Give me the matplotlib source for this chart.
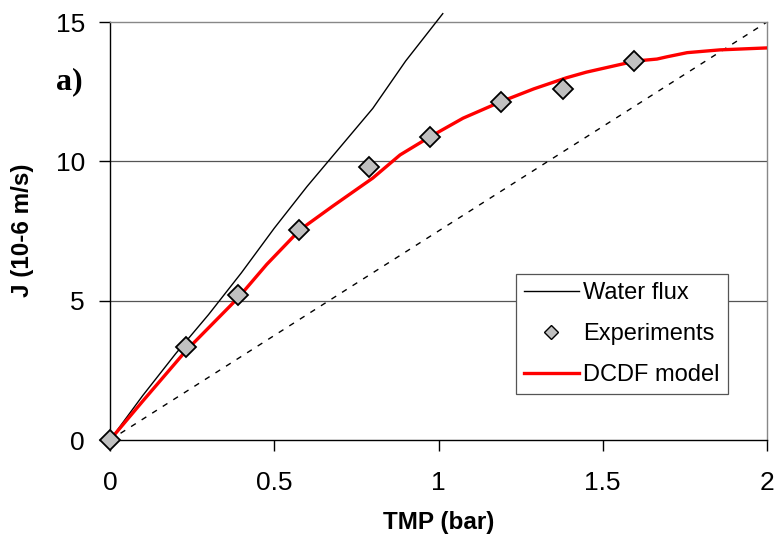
import matplotlib
matplotlib.use("Agg")
import matplotlib.pyplot as plt
from matplotlib.lines import Line2D

plt.rcParams['font.family'] = ['Liberation Sans', 'DejaVu Sans']

# Data
water_tmp = [0, 0.1, 0.2, 0.3, 0.4, 0.5, 0.6, 0.7, 0.8, 0.9, 1.013]
water_j = [0, 1.6, 3.1, 4.5, 6.0, 7.6, 9.1, 10.5, 11.9, 13.6, 15.3]

exp_tmp = [0, 0.231, 0.39, 0.575, 0.788, 0.974, 1.19, 1.38, 1.595]
exp_j = [0, 3.34, 5.2, 7.54, 9.8, 10.88, 12.13, 12.6, 13.6]

model_tmp = [0, 0.1, 0.231, 0.39, 0.477, 0.578, 0.679, 0.8, 0.883, 0.974, 1.075,
             1.19, 1.29, 1.39, 1.45, 1.6, 1.665, 1.695, 1.757, 1.857, 2.0]
model_j = [0, 1.4, 3.2, 5.1, 6.3, 7.54, 8.4, 9.4, 10.23, 10.88, 11.55,
           12.14, 12.6, 13.0, 13.2, 13.6, 13.67, 13.75, 13.9, 14.0, 14.07]

dash_tmp = [0, 2]
dash_j = [0, 15]

x_ticks = [0, 0.5, 1, 1.5, 2]
x_tick_labels = ['0', '0.5', '1', '1.5', '2']
y_ticks = [0, 5, 10, 15]

fig = plt.figure(figsize=(7.79, 5.46), dpi=100)
ax = fig.add_axes([110/779, 106/546, 657/779, 418/546])

for y in [5, 10]:
    ax.axhline(y, color='#555555', lw=0.9, zorder=1)

ax.plot(dash_tmp, dash_j, color='black', lw=1.0, ls=(0, (4, 5)), zorder=2)
ax.plot(water_tmp, water_j, color='black', lw=1.0, zorder=3, clip_on=False)
ax.plot(model_tmp, model_j, color='#ff0000', lw=2.4, zorder=4)
ax.plot(exp_tmp, exp_j, ls='none', marker='D', ms=10, mfc='#c0c0c0',
        mec='black', mew=1.3, zorder=5, clip_on=False)

ax.set_xlim(0, 2)
ax.set_ylim(0, 15)
ax.set_xticks(x_ticks)
ax.set_xticklabels(x_tick_labels)
ax.set_yticks(y_ticks)
ax.tick_params(axis='both', labelsize=19, direction='out', length=8, width=1,
               color='black', pad=10)
ax.tick_params(axis='x', pad=14)

ax.spines['left'].set_color('black')
ax.spines['bottom'].set_color('black')
ax.spines['top'].set_color('#888888')
ax.spines['right'].set_color('#888888')
for s in ax.spines.values():
    s.set_linewidth(1.0)

fig.text(439/779, 1 - 522/546, 'TMP (bar)', fontsize=17.5, fontweight='bold',
         ha='center', va='center')
fig.text(23/779, 1 - 230/546, 'J (10-6 m/s)', fontsize=17.5, fontweight='bold',
         ha='center', va='center', rotation=90)
fig.text(69/779, 1 - 82/546, 'a)', fontsize=23, fontweight='bold',
         family='Liberation Serif', ha='center', va='center')

handles = [Line2D([], [], color='black', lw=1.0),
           Line2D([], [], ls='none', marker='D', ms=7, mfc='#c0c0c0', mec='black', mew=1.0),
           Line2D([], [], color='#ff0000', lw=2.4)]
leg = ax.legend(handles, ['Water flux', 'Experiments', 'DCDF model'],
                loc='upper left', bbox_to_anchor=(0.618, 0.397), fontsize=17,
                frameon=True, fancybox=False, edgecolor='#555555',
                handlelength=2.3, handletextpad=0.2, labelspacing=0.8,
                borderpad=0.35, borderaxespad=0, framealpha=1)
leg.get_frame().set_linewidth(0.9)

fig.savefig('out.png', dpi=100)
